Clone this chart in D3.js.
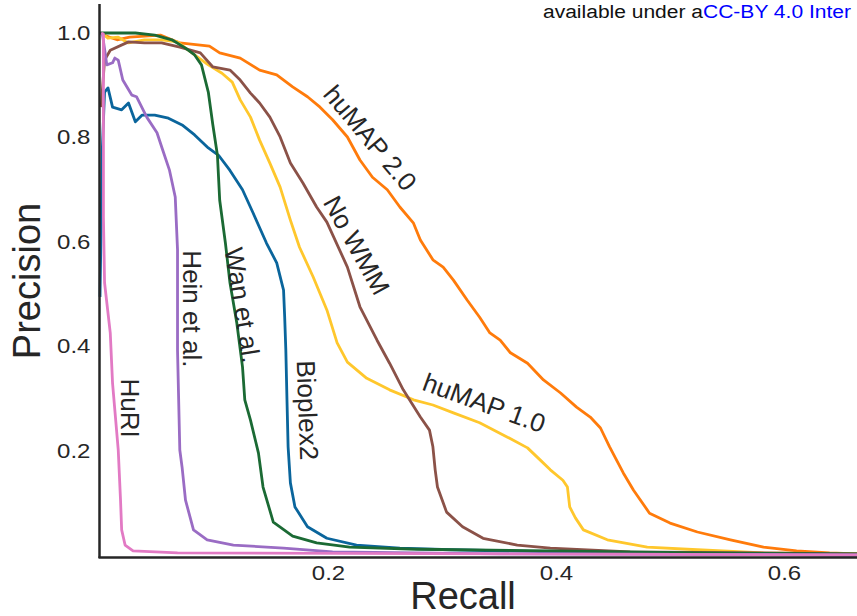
<!DOCTYPE html>
<html>
<head>
<meta charset="utf-8">
<script src="https://cdn.jsdelivr.net/npm/d3@7"></script>
<style>
  body { margin: 0; background: #fff; }
  svg { display: block; font-family: "Liberation Sans", Arial, sans-serif; }
</style>
</head>
<body>
<svg id="chart"></svg>
<script>
// precision / recall curves, [recall, precision]
const huMAP2 = [[0.003,0.996],[0.015,0.987],[0.026,0.992],[0.053,0.996],[0.070,0.981],[0.096,0.975],[0.105,0.962],
  [0.123,0.952],[0.140,0.929],[0.155,0.920],[0.169,0.897],[0.182,0.878],[0.193,0.858],[0.204,0.834],[0.217,0.801],
  [0.228,0.757],[0.239,0.724],[0.252,0.700],[0.263,0.667],[0.275,0.636],[0.281,0.604],[0.292,0.566],[0.301,0.552],
  [0.310,0.527],[0.322,0.489],[0.333,0.456],[0.342,0.426],[0.351,0.412],[0.360,0.388],[0.375,0.368],[0.389,0.336],
  [0.404,0.311],[0.418,0.284],[0.430,0.265],[0.439,0.244],[0.447,0.208],[0.459,0.158],[0.468,0.125],[0.482,0.081],
  [0.500,0.062],[0.524,0.045],[0.553,0.030],[0.582,0.016],[0.611,0.009],[0.640,0.005],[0.664,0.003]]
const huMAP1 = [[0.002,1.000],[0.007,0.990],[0.016,0.992],[0.025,0.981],[0.039,0.987],[0.054,0.987],[0.068,0.983],
  [0.083,0.958],[0.095,0.939],[0.107,0.923],[0.116,0.906],[0.123,0.872],[0.132,0.839],[0.140,0.795],[0.149,0.751],
  [0.158,0.705],[0.167,0.642],[0.175,0.590],[0.187,0.533],[0.199,0.470],[0.208,0.407],[0.217,0.370],[0.234,0.339],
  [0.254,0.317],[0.275,0.298],[0.292,0.288],[0.310,0.273],[0.333,0.254],[0.357,0.227],[0.375,0.206],[0.386,0.183],
  [0.395,0.164],[0.406,0.144],[0.410,0.131],[0.412,0.093],[0.417,0.072],[0.424,0.049],[0.445,0.030],[0.480,0.016],
  [0.524,0.011],[0.582,0.005],[0.664,0.003]]
const noWMM = [[0.001,0.858],[0.004,0.948],[0.009,0.967],[0.025,0.983],[0.039,0.981],[0.054,0.981],[0.070,0.973],
  [0.088,0.962],[0.099,0.935],[0.114,0.929],[0.123,0.910],[0.132,0.885],[0.140,0.866],[0.149,0.839],[0.158,0.801],
  [0.167,0.751],[0.178,0.713],[0.190,0.667],[0.199,0.638],[0.217,0.552],[0.228,0.476],[0.243,0.412],[0.254,0.368],
  [0.266,0.317],[0.281,0.265],[0.289,0.240],[0.292,0.208],[0.294,0.164],[0.296,0.131],[0.304,0.083],[0.318,0.055],
  [0.336,0.033],[0.366,0.020],[0.395,0.014],[0.465,0.007],[0.582,0.005],[0.664,0.003]]
const bioplex2 = [[0.000,0.495],[0.002,0.776],[0.004,0.887],[0.007,0.895],[0.011,0.858],[0.019,0.853],[0.025,0.866],
  [0.031,0.830],[0.037,0.843],[0.048,0.843],[0.060,0.837],[0.072,0.824],[0.083,0.805],[0.095,0.780],[0.104,0.766],
  [0.114,0.737],[0.125,0.700],[0.134,0.657],[0.146,0.598],[0.155,0.560],[0.161,0.508],[0.162,0.456],[0.163,0.393],
  [0.164,0.298],[0.165,0.208],[0.167,0.139],[0.171,0.093],[0.182,0.055],[0.199,0.033],[0.225,0.020],[0.263,0.014],
  [0.307,0.011],[0.395,0.007],[0.526,0.003],[0.664,0.001]]
const wan = [[0.000,1.000],[0.031,1.000],[0.048,0.996],[0.063,0.987],[0.075,0.971],[0.083,0.958],[0.089,0.939],
  [0.095,0.887],[0.099,0.824],[0.103,0.766],[0.105,0.680],[0.110,0.598],[0.114,0.522],[0.120,0.445],[0.125,0.361],
  [0.127,0.298],[0.132,0.259],[0.139,0.196],[0.143,0.131],[0.152,0.064],[0.169,0.037],[0.190,0.024],[0.219,0.016],
  [0.278,0.012],[0.395,0.009],[0.526,0.005],[0.664,0.003]]
const hein = [[0.002,1.000],[0.006,0.939],[0.011,0.943],[0.013,0.952],[0.016,0.948],[0.020,0.910],[0.028,0.881],
  [0.032,0.878],[0.041,0.839],[0.050,0.809],[0.055,0.776],[0.061,0.737],[0.066,0.686],[0.068,0.585],[0.068,0.393],
  [0.070,0.202],[0.072,0.169],[0.075,0.106],[0.082,0.049],[0.094,0.030],[0.117,0.020],[0.161,0.014],[0.204,0.007],
  [0.351,0.003],[0.664,0.001]]
const huri = [[0.001,1.000],[0.003,0.998],[0.003,0.776],[0.003,0.648],[0.004,0.522],[0.009,0.426],[0.011,0.330],
  [0.016,0.202],[0.018,0.106],[0.019,0.049],[0.022,0.020],[0.029,0.009],[0.068,0.005],[0.664,0.001]]

const seriesNames = ['huMAP 2.0', 'huMAP 1.0', 'No WMM', 'Bioplex2', 'Wan et al.', 'Hein et al.', 'HuRI']
const seriesData = [huMAP2, huMAP1, noWMM, bioplex2, wan, hein, huri]
const colors = ['#ff7b0b', '#ffc72c', '#8b5248', '#0a659c', '#1b6a34', '#9a6cc4', '#e27ac4']

// label anchor [recall, precision] and text angle, same order as seriesNames
const labelPos = [[0.237,0.799],[0.337,0.292],[0.225,0.594],[0.182,0.278],[0.125,0.479],[0.081,0.472],[0.026,0.282]]
const labelAngle = [50, 20, 61, 88, 81, 90, 90]

const xTicks = [0.2, 0.4, 0.6]
const yTicks = [0.2, 0.4, 0.6, 0.8, 1.0]

const width = 857
const height = 616
const svg = d3.select('#chart').attr('width', width).attr('height', height)

const xScale = d3.scaleLinear().domain([0, 0.664]).range([100, 857])
const yScale = d3.scaleLinear().domain([0, 1]).range([555.5, 33])

const line = d3.line().x(d => xScale(d[0])).y(d => yScale(d[1]))

seriesData.forEach((data, i) => {
    svg.append('path')
        .datum(data)
        .attr('fill', 'none')
        .attr('stroke', colors[i])
        .attr('stroke-width', 2.8)
        .attr('stroke-linejoin', 'round')
        .attr('d', line)
})

// axes
svg.append('g')
    .attr('transform', 'translate(100,0)')
    .call(d3.axisLeft(yScale).tickValues(yTicks).tickSize(0).tickPadding(8).tickFormat(d3.format('.1f')))
svg.append('g')
    .attr('transform', 'translate(0,558)')
    .call(d3.axisBottom(xScale).tickValues(xTicks).tickSize(0).tickPadding(8).tickFormat(d3.format('.1f')))
svg.selectAll('.domain').remove()
svg.selectAll('.tick text')
    .attr('font-size', 20)
    .attr('fill', '#262626')
    .attr('font-family', '"Liberation Sans", Arial, sans-serif')
    .attr('transform', 'scale(1.2,1)')

svg.append('line').attr('x1', 99.5).attr('x2', 99.5).attr('y1', 4).attr('y2', 558)
    .attr('stroke', '#262626').attr('stroke-width', 2.5)
svg.append('line').attr('x1', 98.5).attr('x2', 857).attr('y1', 557.5).attr('y2', 557.5)
    .attr('stroke', '#262626').attr('stroke-width', 2.5)

svg.append('text')
    .attr('transform', 'translate(27,281) rotate(-90)')
    .attr('text-anchor', 'middle')
    .attr('dominant-baseline', 'central')
    .attr('font-size', 38)
    .attr('fill', '#262626')
    .text('Precision')
svg.append('text')
    .attr('x', 463).attr('y', 609)
    .attr('text-anchor', 'middle')
    .attr('font-size', 38)
    .attr('fill', '#262626')
    .text('Recall')

// curve labels
seriesNames.forEach((name, i) => {
    svg.append('text')
        .attr('transform', `translate(${xScale(labelPos[i][0])},${yScale(labelPos[i][1])}) rotate(${labelAngle[i]})`)
        .attr('text-anchor', 'middle')
        .attr('dominant-baseline', 'central')
        .attr('font-size', 26)
        .attr('fill', '#262626')
        .text(name)
})

// header fragment from the page
const header = svg.append('text')
    .attr('x', 543).attr('y', 18)
    .attr('font-size', 18)
    .attr('fill', '#111')
header.append('tspan').attr('textLength', 160).attr('lengthAdjust', 'spacingAndGlyphs').text('available under a')
header.append('tspan').attr('fill', '#0000ff')
    .attr('textLength', 148).attr('lengthAdjust', 'spacingAndGlyphs').text('CC-BY 4.0 Inter')
</script>
</body>
</html>
